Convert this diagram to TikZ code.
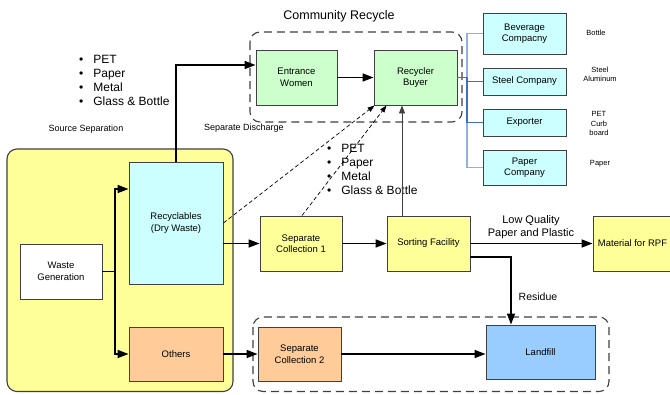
\documentclass[tikz,border=0pt]{standalone}
\usepackage{fontspec}
\setmainfont{Liberation Sans}
\usetikzlibrary{arrows.meta,calc}
\definecolor{cyel}{HTML}{FFFF99}
\definecolor{ccyan}{HTML}{CCFFFF}
\definecolor{cgreen}{HTML}{CCFFCC}
\definecolor{corange}{HTML}{FFCC99}
\definecolor{cland}{HTML}{99CCFF}
\definecolor{cedge}{HTML}{404040}
\definecolor{cblue}{HTML}{3F6FC0}
\definecolor{clblue}{HTML}{8FB0E0}
\begin{document}
\begin{tikzpicture}[x=1pt,y=-1pt,
  boxs/.style={rectangle,draw=cedge,line width=0.9pt,align=center,inner sep=1pt,
    font=\fontsize{9.5}{11.5}\selectfont},
  conn/.style={line width=1.6pt,draw=black,-{Triangle[length=11pt,width=8pt]}},
  plainline/.style={line width=1.6pt,draw=black},
  thinconn/.style={line width=0.9pt,draw=cedge,-{Triangle[length=8pt,width=6pt]}},
  dashconn/.style={line width=0.7pt,draw=black,dash pattern=on 4pt off 2.5pt,-{Triangle[length=7pt,width=5pt]}},
  container/.style={line width=1.1pt,draw=cedge,rounded corners=10pt},
  dashcontainer/.style={line width=1.1pt,draw=cedge,dash pattern=on 8pt off 5pt,rounded corners=10pt},
  bluebr/.style={line width=1.4pt,draw=cblue},
  lbluebr/.style={line width=1.4pt,draw=clblue},
  lbl/.style={inner sep=0pt,align=center},
  blist/.style={inner sep=0pt,anchor=west,font=\fontsize{12}{14}\selectfont}
]
\useasboundingbox (0,0) rectangle (670,394);
\fill[white] (0,0) rectangle (670,394);

% containers
\draw[container,fill=cyel] (7,149) rectangle (233,391.5);
\draw[dashcontainer] (250,32) rectangle (462,122);
\draw[dashcontainer] (253,317) rectangle (609,391.5);

% blue branches
\coordinate (bj) at (467,77.5);
\coordinate (bt) at (467,33.5);
\coordinate (bb) at (467,167.5);
\coordinate (be) at (467,122.5);

% nodes
\node[boxs,fill=cgreen,minimum width=81pt,minimum height=55pt] (ew) at (296.5,77.5) {Entrance\\Women};
\node[boxs,fill=cgreen,minimum width=83pt,minimum height=55pt] (rb) at (415.5,77.5) {Recycler\\Buyer};
\node[boxs,fill=ccyan,minimum width=83pt,minimum height=41pt] (bev) at (524.5,33.5) {Beverage\\Compacny};
\node[boxs,fill=ccyan,minimum width=83pt,minimum height=27pt] (steel) at (524.5,81.5) {Steel Company};
\node[boxs,fill=ccyan,minimum width=83pt,minimum height=27pt] (exp) at (524.5,122.5) {Exporter};
\node[boxs,fill=ccyan,minimum width=83pt,minimum height=35pt] (pap) at (524.5,167.5) {Paper\\Company};
\node[boxs,fill=ccyan,minimum width=94pt,minimum height=122pt] (rec) at (176,223) {Recyclables\\(Dry Waste)};
\node[boxs,fill=white,minimum width=82pt,minimum height=55pt] (wg) at (61,271.5) {Waste\\Generation};
\node[boxs,fill=corange,minimum width=94pt,minimum height=54pt] (oth) at (176,354) {Others};
\node[boxs,fill=cyel,minimum width=82pt,minimum height=55pt] (sc1) at (301,243.5) {Separate\\Collection 1};
\node[boxs,fill=cyel,minimum width=83pt,minimum height=55pt] (sf) at (428.5,243.5) {Sorting Facility};
\node[boxs,fill=cyel,minimum width=79pt,minimum height=55pt] (rpf) at (632.5,243.5) {Material for RPF};
\node[boxs,fill=corange,minimum width=83pt,minimum height=54pt] (sc2) at (299.5,354) {Separate\\Collection 2};
\node[boxs,fill=cland,minimum width=109pt,minimum height=54pt] (lf) at (540.5,352) {Landfill};

\draw[lbluebr] (bev.west) -- (bt) -- (bj);
\draw[lbluebr] (be) -- (bb) -- (pap.west);
\draw[bluebr] (rb.east) -- (bj) -- (be) -- (exp.west);
\draw[bluebr] (steel.west) -- (steel.west -| bj);

% texts
\node[lbl,font=\fontsize{12.5}{14}\selectfont] (ttl) at (339,16) {Community Recycle};
\node[blist] (list1) at (79,82) {\begin{tabular}{@{}l@{\hspace{10pt}}l@{}}•&PET\\•&Paper\\•&Metal\\•&Glass \& Bottle\end{tabular}};
\node[blist] (list2) at (327,171) {\begin{tabular}{@{}l@{\hspace{10pt}}l@{}}•&PET\\•&Paper\\•&Metal\\•&Glass \& Bottle\end{tabular}};
\node[lbl,font=\fontsize{9}{11}\selectfont] (srcsep) at (86,129) {Source Separation};
\node[lbl,font=\fontsize{9}{11}\selectfont] (sepdis) at (244,128) {Separate Discharge};
\node[lbl,font=\fontsize{11}{13}\selectfont] (lowq) at (531,227.5) {Low Quality\\Paper and Plastic};
\node[lbl,font=\fontsize{10.5}{12}\selectfont] (resid) at (538,297) {Residue};
\node[lbl,font=\fontsize{7.5}{9}\selectfont] (l1) at (596,33) {Bottle};
\node[lbl,font=\fontsize{7.5}{9}\selectfont] (l2) at (600,74.5) {Steel\\Aluminum};
\node[lbl,font=\fontsize{7.5}{9.5}\selectfont] (l3) at (599,123.5) {PET\\Curb\\board};
\node[lbl,font=\fontsize{7.5}{9}\selectfont] (l4) at (600,164) {Paper};

% connectors
\coordinate (j) at (115,271.5);
\draw[plainline] (wg.east) -- (j);
\draw[conn] (j) |- ([yshift=34pt]rec.west);
\draw[conn] (j) |- (oth.west);
\draw[conn] (rec.north) |- ([yshift=12.5pt]ew.west);
\draw[conn] (ew.east) -- (rb.west);
\draw[conn] (sc1.west -| rec.east) -- (sc1.west);
\draw[conn] (sc1.east) -- (sf.west);
\draw[conn] (sf.east) -- (rpf.west);
\draw[conn] ([yshift=-13.5pt]sf.east) -| ([xshift=-29.5pt]lf.north);
\draw[conn] (oth.east) -- (sc2.west);
\draw[conn] (sc2.east) -- (sc2.east -| lf.west);
\draw[thinconn] ([xshift=-26.5pt]sf.north) -- ([xshift=-13.5pt]rb.south);
\draw[dashconn] (rec.east) -- ([xshift=1pt]rb.south west);
\draw[dashconn] ([xshift=1pt]sc1.north) -- ([xshift=13pt]rb.south west);
\end{tikzpicture}
\end{document}
